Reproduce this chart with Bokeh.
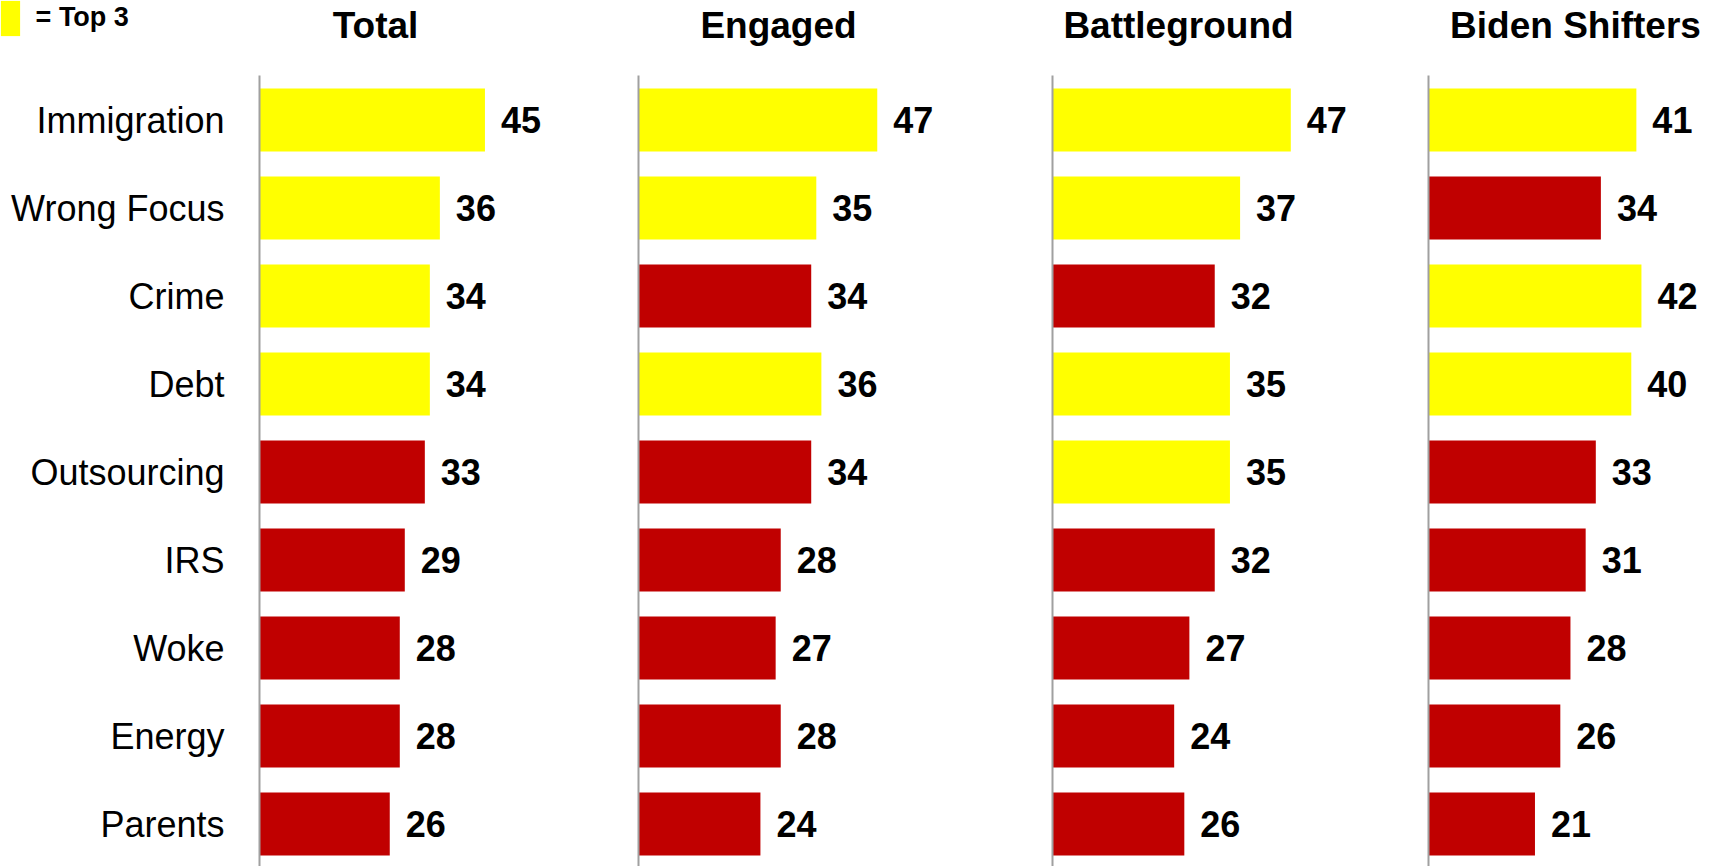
from bokeh.plotting import figure
from bokeh.layouts import row
from bokeh.models import ColumnDataSource, Range1d, Legend, LegendItem
from bokeh.core.properties import value
from bokeh.embed import file_html
from bokeh.resources import INLINE

# ---- data ----
categories = ["Immigration", "Wrong Focus", "Crime", "Debt", "Outsourcing",
              "IRS", "Woke", "Energy", "Parents"]
panel_titles = ["Total", "Engaged", "Battleground", "Biden Shifters"]
total = [45, 36, 34, 34, 33, 29, 28, 28, 26]
engaged = [47, 35, 34, 36, 34, 28, 27, 28, 24]
battleground = [47, 37, 32, 35, 35, 32, 27, 24, 26]
biden_shifters = [41, 34, 42, 40, 33, 31, 28, 26, 21]
legend_label = "= Top 3"

series = [total, engaged, battleground, biden_shifters]

# ---- layout / style ----
YELLOW = "#FFFF00"
RED = "#C00000"
FONT = "Liberation Sans"
FIG_LEFTS = [0, 600, 1000, 1400]
FIG_WIDTHS = [600, 400, 400, 315]
AXIS_PX = [259, 638, 1052, 1428]
PX_PER_UNIT = [5.01, 5.08, 5.07, 5.07]
TITLE_CENTER_PX = [375, 778, 1178, 1575]
HEIGHT = 866
ROW_PX = 88.0
FIRST_ROW_CENTER_PX = 119.5
PAGE_TOP = 0
LEG_GLYPH_W, LEG_GLYPH_H = 24, 44

def y_of(page_y):
    return (page_y - FIRST_ROW_CENTER_PX) / ROW_PX

figs = []
for i, vals in enumerate(series):
    k = PX_PER_UNIT[i]
    x0 = -(AXIS_PX[i] - FIG_LEFTS[i]) / k
    x1 = x0 + FIG_WIDTHS[i] / k
    p = figure(width=FIG_WIDTHS[i], height=HEIGHT, output_backend="svg",
               toolbar_location=None, x_axis_location=None, y_axis_location=None,
               x_range=Range1d(x0, x1),
               y_range=Range1d(y_of(PAGE_TOP + HEIGHT), y_of(PAGE_TOP)),
               min_border=0, outline_line_color=None)
    p.xgrid.visible = False
    p.ygrid.visible = False

    third = sorted(vals, reverse=True)[2]
    colors = [YELLOW if v >= third else RED for v in vals]
    src = ColumnDataSource(dict(y=list(range(len(categories))), v=vals,
                                lab=[str(v) for v in vals], color=colors,
                                cat=categories))
    bars = p.hbar(y="y", left=0, right="v", height=0.716, fill_color="color",
                  line_color=None, source=src)
    # axis line
    p.segment(x0=[0], y0=[y_of(75)], x1=[0], y1=[y_of(PAGE_TOP + HEIGHT) + 1],
              line_color="#A0A0A0", line_width=2)
    # value labels
    p.text(x="v", y="y", text="lab", source=src, x_offset=16,
           text_baseline="middle", text_align="left",
           text_font=value(FONT), text_font_style="bold",
           text_font_size="36px", text_color="black")
    # panel title
    p.text(x=[(TITLE_CENTER_PX[i] - AXIS_PX[i]) / k], y=[y_of(25)],
           text=[panel_titles[i]], text_align="center", text_baseline="middle",
           text_font=value(FONT), text_font_style="bold",
           text_font_size="37px", text_color="black")
    if i == 0:
        p.text(x=0, y="y", text="cat", source=src, x_offset=-35,
               text_align="right", text_baseline="middle",
               text_font=value(FONT), text_font_size="36px",
               text_color="black")
        leg = Legend(items=[LegendItem(label=legend_label, renderers=[bars], index=0)],
                     location=(-0.1 * LEG_GLYPH_W, HEIGHT + 0.1 * LEG_GLYPH_H - LEG_GLYPH_H),
                     margin=0, padding=0,
                     glyph_width=LEG_GLYPH_W, glyph_height=LEG_GLYPH_H,
                     label_standoff=14,
                     label_text_font=FONT, label_text_font_style="bold",
                     label_text_font_size="27px", label_text_color="black",
                     border_line_color=None, background_fill_alpha=0)
        p.add_layout(leg)
    figs.append(p)

layout = row(*figs)
open("out.html", "w").write(file_html(layout, INLINE))
